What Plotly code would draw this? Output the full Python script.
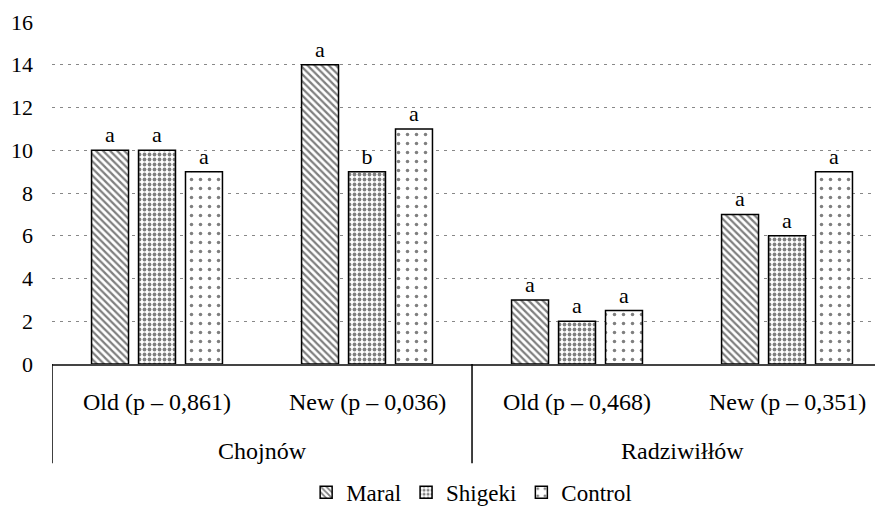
import plotly.graph_objects as go

categories = ["Old (p – 0,861)", "New (p – 0,036)", "Old (p – 0,468)", "New (p – 0,351)"]
groups = ["Chojnów", "Radziwiłłów"]
series_names = ["Maral", "Shigeki", "Control"]
maral = [10, 14, 3, 7]
shigeki = [10, 9, 2, 6]
control = [9, 11, 2.5, 9]
maral_letters = ["a", "a", "a", "a"]
shigeki_letters = ["a", "b", "a", "a"]
control_letters = ["a", "a", "a", "a"]
y_ticks = [0, 2, 4, 6, 8, 10, 12, 14, 16]

FONT = "Liberation Serif"
xs = list(range(len(categories)))

patterns = [
    dict(shape="\\", size=5, solidity=0.45, fgcolor="black", bgcolor="white", fillmode="overlay"),
    dict(shape=".", size=5, solidity=0.45, fgcolor="black", bgcolor="white", fillmode="overlay"),
    dict(shape=".", size=9, solidity=0.12, fgcolor="black", bgcolor="white", fillmode="overlay"),
]

fig = go.Figure()
for name, vals, letters, pat in zip(series_names, [maral, shigeki, control],
                                    [maral_letters, shigeki_letters, control_letters], patterns):
    fig.add_trace(go.Bar(
        x=xs, y=vals, name=name, text=letters, textposition="outside",
        textfont=dict(family=FONT, size=22, color="black"),
        cliponaxis=False,
        marker=dict(color="white", pattern=pat, line=dict(color="black", width=1.5)),
    ))

annotations = []
for i, c in enumerate(categories):
    annotations.append(dict(x=i, y=-0.112, xref="x", yref="paper", text=c, showarrow=False,
                            font=dict(family=FONT, size=24, color="black"), yanchor="middle"))
for j, g in enumerate(groups):
    annotations.append(dict(x=2 * j + 0.5, y=-0.253, xref="x", yref="paper", text=g, showarrow=False,
                            font=dict(family=FONT, size=24, color="black"), yanchor="middle"))

shapes = []
for xv in [-0.5, 1.5]:
    shapes.append(dict(type="line", xref="x", yref="paper", x0=xv, x1=xv, y0=0, y1=-0.29,
                       line=dict(color="black", width=1.5)))

fig.update_layout(
    width=875, height=506,
    margin=dict(l=44, r=0, t=14, b=147),
    plot_bgcolor="white", paper_bgcolor="white",
    barmode="group", bargap=0.329, bargroupgap=0.213,
    font=dict(family=FONT, size=22, color="black"),
    showlegend=True,
    legend=dict(orientation="h", x=0.505, xanchor="center", y=-0.375, yanchor="middle",
                font=dict(family=FONT, size=23, color="black"), itemwidth=30,
                traceorder="normal"),
    annotations=annotations, shapes=shapes,
)
fig.update_xaxes(range=[-0.5, 3.457], showticklabels=False, showgrid=False, zeroline=False,
                 showline=True, linecolor="#444", linewidth=2, ticks="")
fig.update_yaxes(range=[0, 16], tickvals=y_ticks, showgrid=True, gridcolor="#888", griddash="3px,5px",
                 gridwidth=1, zeroline=False, showline=False, ticks="", ticklabelstandoff=18,
                 tickfont=dict(family=FONT, size=22, color="black"))

fig.write_html("out.html")
